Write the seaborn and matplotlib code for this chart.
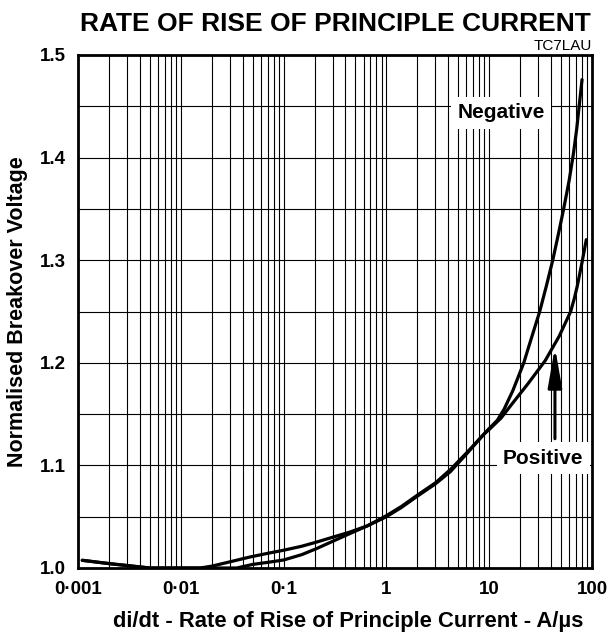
import numpy as np
import pandas as pd
import matplotlib
matplotlib.use("Agg")
import matplotlib.pyplot as plt
import seaborn as sns
from matplotlib.ticker import LogLocator, FixedLocator, FixedFormatter, MultipleLocator

# ---- data ----
pos_x = [0.0011, 0.002, 0.005, 0.0154, 0.02, 0.03, 0.047, 0.07, 0.1, 0.15, 0.21, 0.3, 0.44, 0.65,
         1.0, 1.4, 2.0, 3.0, 4.2, 6.0, 8.8, 10, 13, 17, 24, 35, 48, 62, 67, 72, 80, 88]
pos_y = [1.0075, 1.0043, 1.000, 1.000, 1.0018, 1.006, 1.0107, 1.0143, 1.0173, 1.0212, 1.0253, 1.030, 1.035, 1.041,
         1.051, 1.060, 1.071, 1.083, 1.096, 1.112, 1.130, 1.135, 1.146, 1.161, 1.180, 1.202, 1.226, 1.250, 1.262,
         1.275, 1.298, 1.320]

neg_x = [0.0011, 0.002, 0.005, 0.035, 0.05, 0.07, 0.1, 0.15, 0.21, 0.3, 0.44, 0.65, 1.0, 1.4, 2.0, 3.0,
         4.2, 6.0, 8.8, 10, 12, 14, 17, 21.7, 25, 31, 36, 41.5, 47, 53, 60, 66, 71, 75, 80]
neg_y = [1.0075, 1.0043, 1.000, 1.000, 1.0035, 1.0055, 1.0078, 1.013, 1.019, 1.026, 1.0335, 1.041, 1.050, 1.059,
         1.070, 1.082, 1.094, 1.111, 1.130, 1.136, 1.144, 1.155, 1.173, 1.200, 1.220, 1.250, 1.275, 1.300,
         1.325, 1.350, 1.378, 1.404, 1.428, 1.450, 1.476]

x_ticks = [0.001, 0.01, 0.1, 1, 10, 100]
x_tick_labels = ["0·001", "0·01", "0·1", "1", "10", "100"]
y_ticks = [1.0, 1.1, 1.2, 1.3, 1.4, 1.5]
y_tick_labels = ["1.0", "1.1", "1.2", "1.3", "1.4", "1.5"]

title = "RATE OF RISE OF PRINCIPLE CURRENT"
code = "TC7LAU"
x_label = "di/dt - Rate of Rise of Principle Current - A/µs"
y_label = "Normalised Breakover Voltage"
neg_label = "Negative"
pos_label = "Positive"

df = pd.concat([
    pd.DataFrame({"x": pos_x, "y": pos_y, "series": "Positive"}),
    pd.DataFrame({"x": neg_x, "y": neg_y, "series": "Negative"}),
], ignore_index=True)

sns.set_theme(style="white")
plt.rcParams["font.family"] = ["Liberation Sans", "DejaVu Sans"]
plt.rcParams["text.color"] = "black"
plt.rcParams["axes.labelcolor"] = "black"
plt.rcParams["xtick.color"] = "black"
plt.rcParams["ytick.color"] = "black"

fig = plt.figure(figsize=(6.10, 6.39), dpi=100)
ax = fig.add_axes([78 / 610, 1 - 568 / 639, (592 - 78) / 610, (568 - 55) / 639])

sns.lineplot(data=df, x="x", y="y", hue="series", palette={"Positive": "black", "Negative": "black"},
             linewidth=2.3, legend=False, ax=ax, sort=False, zorder=5)

ax.set_xscale("log")
ax.set_xlim(0.001, 100)
ax.set_ylim(1.0, 1.5)

ax.xaxis.set_major_locator(FixedLocator(x_ticks))
ax.xaxis.set_major_formatter(FixedFormatter(x_tick_labels))
ax.xaxis.set_minor_locator(LogLocator(base=10, subs=np.arange(2, 10)))
ax.xaxis.set_minor_formatter(FixedFormatter([]))
ax.yaxis.set_major_locator(FixedLocator(y_ticks))
ax.yaxis.set_major_formatter(FixedFormatter(y_tick_labels))
ax.yaxis.set_minor_locator(MultipleLocator(0.05))

ax.grid(which="both", axis="both", color="black", linewidth=0.8)
ax.set_axisbelow(True)
ax.tick_params(which="both", length=0)
ax.tick_params(axis="x", pad=9, labelsize=13.5, colors="black")
ax.tick_params(axis="y", pad=9, labelsize=13.5, colors="black")
for lbl in ax.get_xticklabels() + ax.get_yticklabels():
    lbl.set_fontweight("bold")

for s in ax.spines.values():
    s.set_visible(True)
    s.set_color("black")
    s.set_linewidth(2.0)
    s.set_zorder(6)

ax.set_xlabel(x_label, fontsize=15.8, fontweight="bold", color="black")
ax.set_ylabel(y_label, fontsize=15.5, fontweight="bold", labelpad=8, color="black")
ax.xaxis.set_label_coords((348 - 78) / 514, -(622 - 568) / 513)
ax.xaxis.label.set_va("center")

fig.text(335 / 610, 1 - 24 / 639, title, ha="center", va="center", fontsize=19, fontweight="bold",
         color="black")
ax.text(1.0, 1.003, code, transform=ax.transAxes, ha="right", va="bottom", fontsize=11, color="black")

ax.text(13.0, 1.4437, neg_label, ha="center", va="center", fontsize=15, fontweight="bold", zorder=4,
        color="black", bbox=dict(boxstyle="square,pad=0.3", fc="white", ec="none"))
ax.text(33.4, 1.107, pos_label, ha="center", va="center", fontsize=15, fontweight="bold", zorder=4,
        color="black", bbox=dict(boxstyle="square,pad=0.3", fc="white", ec="none"))

ax.annotate("", xy=(43.6, 1.2154), xytext=(43.6, 1.126),
            arrowprops=dict(arrowstyle="-|>,head_length=2.0,head_width=0.35", lw=2.2, color="black",
                            shrinkA=0, shrinkB=0), zorder=5)

fig.savefig("out.png", dpi=100)
